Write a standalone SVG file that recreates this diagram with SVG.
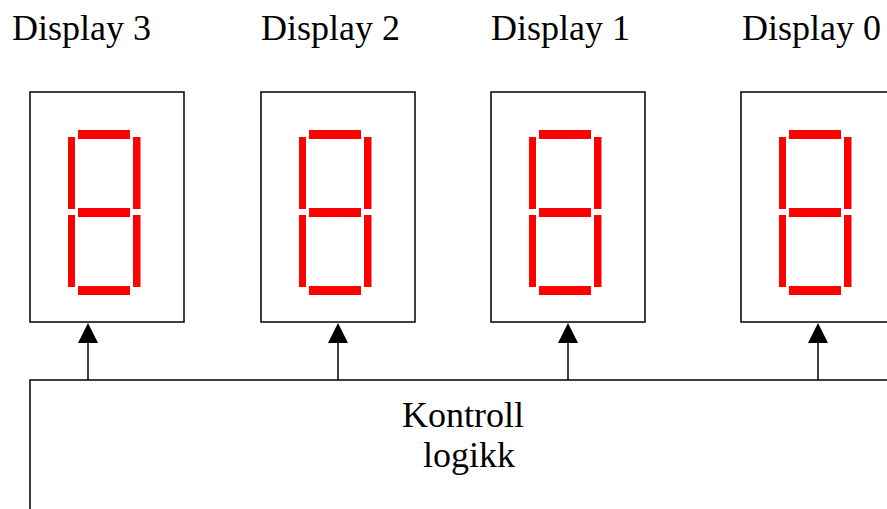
<svg xmlns="http://www.w3.org/2000/svg" width="887" height="509" viewBox="0 0 887 509">
<style>
.box{fill:#fff;stroke:#000;stroke-width:1.5}
.seg{fill:#ff0000}
.lbl{font-family:"Liberation Serif","Times New Roman",serif;font-size:36px;fill:#000}
.ctl{font-family:"Liberation Serif","Times New Roman",serif;font-size:36px;fill:#000}
.wire{fill:none;stroke:#000;stroke-width:1.5}
</style>
<defs>
<marker id="ah" markerUnits="userSpaceOnUse" markerWidth="20" markerHeight="20" refX="0" refY="10" orient="auto" viewBox="0 0 20 20">
<path d="M0,0 L20,10 L0,20 Z" fill="#000"/>
</marker>
<g id="digit">
<rect class="seg" x="48" y="130" width="52" height="9"/>
<rect class="seg" x="38" y="137" width="7" height="72"/>
<rect class="seg" x="103" y="137" width="7.5" height="72"/>
<rect class="seg" x="48" y="208" width="52" height="9"/>
<rect class="seg" x="38" y="215" width="7" height="72"/>
<rect class="seg" x="103" y="215" width="7.5" height="72"/>
<rect class="seg" x="48" y="286" width="52" height="9"/>
</g>
</defs>
<g id="display3">
<text class="lbl" x="12" y="40">Display 3</text>
<rect class="box" x="30" y="92" width="154" height="230"/>
<use href="#digit" x="30"/>
</g>
<g id="display2">
<text class="lbl" x="261" y="40">Display 2</text>
<rect class="box" x="261" y="92" width="154" height="230"/>
<use href="#digit" x="261"/>
</g>
<g id="display1">
<text class="lbl" x="491" y="40">Display 1</text>
<rect class="box" x="491" y="92" width="154" height="230"/>
<use href="#digit" x="491"/>
</g>
<g id="display0">
<text class="lbl" x="742" y="40">Display 0</text>
<rect class="box" x="741" y="92" width="154" height="230"/>
<use href="#digit" x="741"/>
</g>
<g id="kontroll">
<path class="wire" d="M30,509 V380 H890"/>
<text class="ctl" x="402" y="427">Kontroll</text>
<text class="ctl" x="423" y="467">logikk</text>
</g>
<g id="connectors">
<line class="wire" x1="88" y1="380" x2="88" y2="343" marker-end="url(#ah)"/>
<line class="wire" x1="338" y1="380" x2="338" y2="343" marker-end="url(#ah)"/>
<line class="wire" x1="568" y1="380" x2="568" y2="343" marker-end="url(#ah)"/>
<line class="wire" x1="818" y1="380" x2="818" y2="343" marker-end="url(#ah)"/>
</g>
</svg>
